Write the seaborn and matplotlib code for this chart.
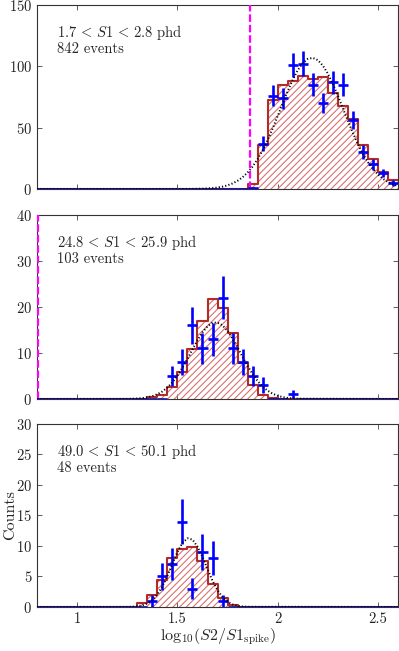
import numpy as np
import matplotlib
matplotlib.use("Agg")
import matplotlib.pyplot as plt
import seaborn as sns

# binning of log10(S2/S1_spike): 0.05 wide bins over the plotted range
bin_edges = np.round(np.arange(0.80, 2.601, 0.05), 3)
bin_centers = (bin_edges[:-1] + bin_edges[1:]) / 2

# observed counts (blue points), one value per bin
obs_1 = [0, 0, 0, 0, 0, 0, 0, 0, 0, 0, 0, 0, 0, 0, 0, 0, 0, 0, 0, 0, 0,
         1, 37, 76, 74, 101, 102, 85, 70, 87, 85, 56, 30, 20, 13, 5]
obs_2 = [0, 0, 0, 0, 0, 0, 0, 0, 0, 0, 0, 0, 0,
         5, 8, 16, 11, 13, 22, 11, 8, 5, 3, 0, 0, 1,
         0, 0, 0, 0, 0, 0, 0, 0, 0, 0]
obs_3 = [0, 0, 0, 0, 0, 0, 0, 0, 0, 0, 0,
         1, 5, 7, 14, 3, 9, 8, 1,
         0, 0, 0, 0, 0, 0, 0, 0, 0, 0, 0, 0, 0, 0, 0, 0, 0]

# expected spectrum (red hatched histogram)
exp_1 = [0, 0, 0, 0, 0, 0, 0, 0, 0, 0, 0, 0, 0, 0, 0, 0, 0, 0, 0, 0, 0,
         3.8, 35.9, 72.6, 84.5, 88.2, 92.0, 89.4, 91.3, 78.0, 68.0, 57.3, 35.6, 24.3, 14.1, 7.3]
exp_2 = [0, 0, 0, 0, 0, 0, 0, 0, 0, 0, 0,
         0.4, 0.9, 2.7, 5.9, 10.8, 17.0, 21.7, 19.7, 14.3, 7.8, 3.0, 0.9, 0.2,
         0, 0, 0, 0, 0, 0, 0, 0, 0, 0, 0, 0]
exp_3 = [0, 0, 0, 0, 0, 0, 0, 0, 0, 0,
         0.7, 1.9, 4.4, 8.0, 9.5, 9.9, 7.5, 3.8, 1.4, 0.3,
         0, 0, 0, 0, 0, 0, 0, 0, 0, 0, 0, 0, 0, 0, 0, 0]

# gaussian fit (black dotted), sampled every 0.025
fit_x1 = np.r_[0.80, np.round(np.arange(1.50, 2.601, 0.025), 3)]
fit_y1 = [0, 0.01, 0.02, 0.04, 0.08, 0.15, 0.26, 0.45, 0.74, 1.2, 1.9, 3.0, 4.5, 6.7, 9.6,
          13.4, 18.3, 24.4, 31.7, 40.1, 49.5, 59.5, 69.8, 79.9, 89.1, 96.9, 102.7, 106.1,
          106.9, 105.1, 100.6, 94.0, 85.6, 75.9, 65.7, 55.5, 45.6, 36.6, 28.6, 21.8, 16.2,
          11.8, 8.3, 5.7, 3.8, 2.5]
fit_x2 = np.r_[0.80, np.round(np.arange(1.25, 2.101, 0.025), 3), 2.60]
fit_y2 = [0, 0.03, 0.06, 0.11, 0.20, 0.37, 0.63, 1.04, 1.64, 2.49, 3.62, 5.07, 6.8, 8.7,
          10.8, 12.8, 14.5, 15.8, 16.6, 16.6, 16.0, 14.8, 13.1, 11.2, 9.1, 7.2, 5.4, 3.9,
          2.7, 1.8, 1.14, 0.70, 0.41, 0.23, 0.12, 0.06, 0]
fit_x3 = np.r_[0.80, np.round(np.arange(1.25, 1.851, 0.025), 3), 2.60]
fit_y3 = [0, 0.02, 0.05, 0.12, 0.27, 0.58, 1.14, 2.05, 3.38, 5.1, 7.1, 9.0, 10.5, 11.26,
          11.05, 9.9, 8.2, 6.2, 4.3, 2.75, 1.6, 0.86, 0.42, 0.19, 0.08, 0.03, 0]

s1_labels = [r"$1.7\,<\,S1\,<\,2.8$ phd", r"$24.8\,<\,S1\,<\,25.9$ phd",
             r"$49.0\,<\,S1\,<\,50.1$ phd"]
event_labels = ["842 events", "103 events", "48 events"]
y_max = [150, 40, 30]
y_step = [50, 10, 5]
threshold = [1.86, 0.807, None]

sns.set_style("ticks")
plt.rcParams.update({
    "font.family": "serif",
    "font.serif": ["cmr10"],
    "mathtext.fontset": "cm",
    "axes.formatter.use_mathtext": True,
    "axes.unicode_minus": False,
    "font.size": 10,
    "hatch.linewidth": 0.8,
})

edge_red = "#B22B2B"
hatch_red = "#D97272"

fig = plt.figure(figsize=(3.99, 6.51), dpi=100)
rects = [[0.0927, 0.7097, 0.905, 0.2826],
         [0.0927, 0.3871, 0.905, 0.2826],
         [0.0927, 0.0676, 0.905, 0.2811]]

panels = zip(rects, [obs_1, obs_2, obs_3], [exp_1, exp_2, exp_3],
             [(fit_x1, fit_y1), (fit_x2, fit_y2), (fit_x3, fit_y3)])
for i, (rect, obs, exp, (fx, fy)) in enumerate(panels):
    ax = fig.add_axes(rect)
    obs = np.array(obs, dtype=float)

    # hatched fill, then solid outline
    sns.histplot(x=bin_centers, weights=exp, bins=bin_edges.tolist(), element="step",
                 fill=True, color=hatch_red, edgecolor=hatch_red, linewidth=0,
                 hatch="/////", ax=ax)
    ax.collections[-1].set_facecolor("none")
    sns.histplot(x=bin_centers, weights=exp, bins=bin_edges.tolist(), element="step",
                 fill=False, color=edge_red, linewidth=1.5, ax=ax)

    ax.errorbar(bin_centers, obs, xerr=0.025, yerr=np.sqrt(obs), fmt="none",
                ecolor="blue", elinewidth=1.9, capsize=0, zorder=4)
    sns.lineplot(x=fx, y=fy, color="black", linewidth=1.4, linestyle=(0, (0.6, 1.1)),
                 ax=ax, zorder=5)
    if threshold[i] is not None:
        ax.axvline(threshold[i], color="#FF00FF", linewidth=1.6, dashes=(3.4, 1.3), zorder=3)

    ax.set_xlim(0.8, 2.6)
    ax.set_ylim(0, y_max[i])
    ax.set_xticks([1, 1.5, 2, 2.5])
    ax.set_yticks(np.arange(0, y_max[i] + 1, y_step[i]))
    ax.tick_params(direction="in", top=True, right=True, length=3.5, width=0.6,
                   colors="#444444", labelcolor="#222222", labelsize=10.5)
    for sp in ax.spines.values():
        sp.set_visible(True)
        sp.set_color("#333333")
        sp.set_linewidth(0.8)

    ax.text(0.055, 0.85, s1_labels[i], transform=ax.transAxes, va="center", fontsize=10.5)
    ax.text(0.055, 0.76, event_labels[i], transform=ax.transAxes, va="center", fontsize=10.5)

    ax.set_ylabel("")
    ax.set_xlabel("")
    if i < 2:
        ax.set_xticklabels([])
    else:
        ax.set_xticklabels(["1", "1.5", "2", "2.5"])
        ax.set_xlabel(r"$\mathrm{log}_{10}(S2/S1_{\mathrm{spike}})$", fontsize=11.5)
        ax.xaxis.set_label_coords(0.5, -0.105)
        ax.set_ylabel("Counts", fontsize=11.5)
        ax.yaxis.set_label_coords(-0.055, 0.5)

fig.savefig("out.png", dpi=100)
